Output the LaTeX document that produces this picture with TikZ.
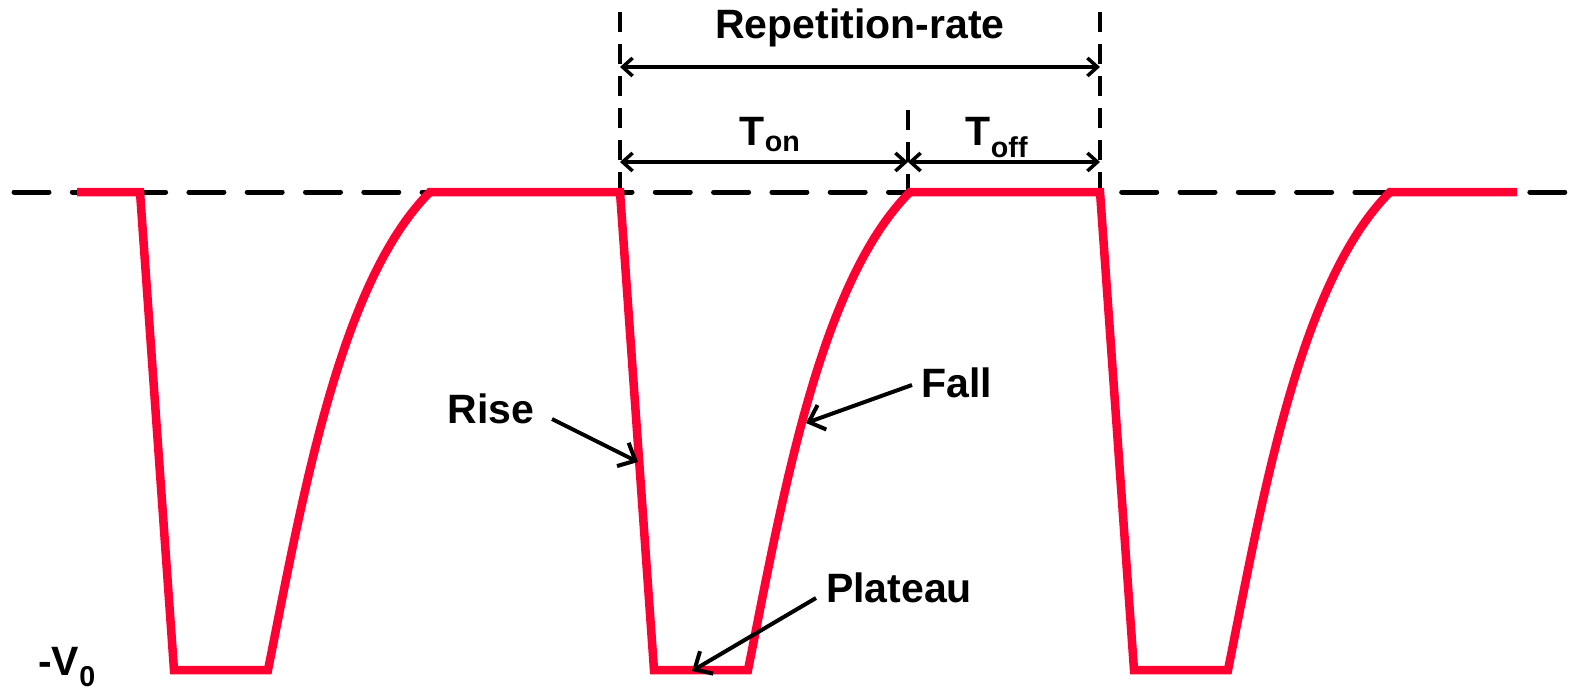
\documentclass[tikz,border=0pt]{standalone}
\usepackage{fontspec}
\setmainfont{Liberation Sans}
\usetikzlibrary{arrows.meta}
\definecolor{pulsered}{HTML}{FF0033}
\tikzset{
  pulse/.style={
    draw=pulsered,
    line width=8.5pt
  },
  level/.style={
    line width=5pt,
    line cap=round,
    dash pattern=on 35pt off 23.3pt
  },
  guide/.style={
    line width=3.2pt,
    dash pattern=on 20pt off 12pt
  },
  dim/.style={
    {Straight Barb[length=10pt,width=18pt]}-{Straight Barb[length=10pt,width=18pt]},
    line width=3.5pt
  },
  pointer/.style={
    -{Straight Barb[length=14pt,width=26pt]},
    line width=4pt
  },
  lbl/.style={
    font=\fontsize{41}{46}\selectfont\bfseries,
    inner sep=0pt,
    anchor=base
  }
}

\begin{document}
\begin{tikzpicture}[x=1pt, y=-1pt]
    \useasboundingbox (0,0) rectangle (1573,694);

    % reference level and guides
    \coordinate (lvlA) at (14,192);
    \coordinate (lvlB) at (1580,192);
    \coordinate (gAtop) at (620,12);
    \coordinate (gAbot) at (620,192);
    \coordinate (gBtop) at (908,110);
    \coordinate (gBbot) at (908,192);
    \coordinate (gCtop) at (1100,12);
    \coordinate (gCbot) at (1100,192);
    \draw[level] (lvlA) -- (lvlB);
    \draw[guide] (gAtop) -- (gAbot);
    \draw[guide] (gBtop) -- (gBbot);
    \draw[guide] (gCtop) -- (gCbot);

    % pulse train
    \draw[pulse] (77,192)
      \foreach \s in {140,620,1100}{
        -- (\s,192) -- (\s+34,670) -- (\s+128,670)
        .. controls (\s+163,495) and (\s+200,282) .. (\s+290,192)
      } -- (1517,192);

    % dimensions
    \coordinate (repL) at (620,67);
    \coordinate (repR) at (1100,67);
    \coordinate (onL) at (620,162);
    \coordinate (onR) at (908,162);
    \coordinate (offR) at (1100,162);
    \draw[dim] (repL) -- (repR);
    \draw[dim] (onL) -- (onR);
    \draw[dim] (onR) -- (offR);

    \node[lbl] (rep) at (860,38) {Repetition-rate};
    \node[lbl] (ton) at (770,145) {T\textsubscript{on}};
    \node[lbl] (toff) at (997,145) {T\textsubscript{off}};
    \node[lbl] (rise) at (491,423) {Rise};
    \node[lbl] (fall) at (957,397) {Fall};
    \node[lbl] (plateau) at (899,602) {Plateau};
    \node[lbl] (vnull) at (67,675) {-V\textsubscript{0}};

    % pointers
    \coordinate (riseA) at (552,419);
    \coordinate (riseB) at (638,462);
    \coordinate (fallA) at (912,385);
    \coordinate (fallB) at (806,423);
    \coordinate (platA) at (816,598);
    \coordinate (platB) at (692,671);
    \draw[pointer] (riseA) -- (riseB);
    \draw[pointer] (fallA) -- (fallB);
    \draw[pointer] (platA) -- (platB);
\end{tikzpicture}
\end{document}
